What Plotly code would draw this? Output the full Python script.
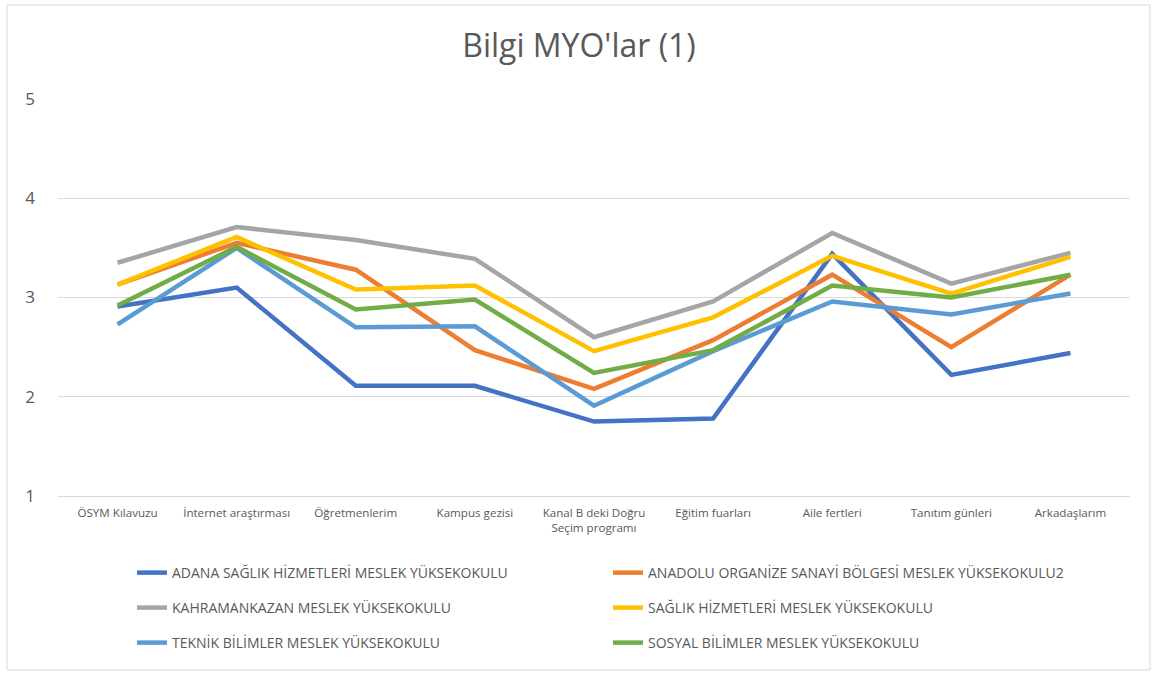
import plotly.graph_objects as go

categories = ["ÖSYM Kılavuzu", "İnternet araştırması", "Öğretmenlerim", "Kampus gezisi",
              "Kanal B deki Doğru<br>Seçim programı", "Eğitim fuarları", "Aile fertleri",
              "Tanıtım günleri", "Arkadaşlarım"]

adana = [2.91, 3.10, 2.11, 2.11, 1.75, 1.78, 3.44, 2.22, 2.44]
anadolu = [3.13, 3.55, 3.28, 2.47, 2.08, 2.57, 3.23, 2.50, 3.23]
kahramankazan = [3.35, 3.71, 3.58, 3.39, 2.60, 2.96, 3.65, 3.14, 3.45]
saglik = [3.13, 3.61, 3.08, 3.12, 2.46, 2.80, 3.42, 3.04, 3.41]
teknik = [2.73, 3.50, 2.70, 2.71, 1.91, 2.46, 2.96, 2.83, 3.04]
sosyal = [2.92, 3.51, 2.88, 2.98, 2.24, 2.47, 3.12, 3.00, 3.23]

series = [
    ("ADANA SAĞLIK HİZMETLERİ MESLEK YÜKSEKOKULU", adana, "#4472C4", "legend"),
    ("ANADOLU ORGANİZE SANAYİ BÖLGESİ MESLEK YÜKSEKOKULU2", anadolu, "#ED7D31", "legend"),
    ("KAHRAMANKAZAN MESLEK YÜKSEKOKULU", kahramankazan, "#A5A5A5", "legend2"),
    ("SAĞLIK HİZMETLERİ MESLEK YÜKSEKOKULU", saglik, "#FFC000", "legend2"),
    ("TEKNİK BİLİMLER MESLEK YÜKSEKOKULU", teknik, "#5B9BD5", "legend3"),
    ("SOSYAL BİLİMLER MESLEK YÜKSEKOKULU", sosyal, "#70AD47", "legend3"),
]

fig = go.Figure()
for name, vals, color, leg in series:
    fig.add_trace(go.Scatter(x=categories, y=vals, name=name, mode="lines",
                             line=dict(color=color, width=4.5), legend=leg))

font = "Open Sans"
grey = "#595959"
W, H = 1158, 677
ml, mr, mt, mb = 58, 28, 99, 181
pw, ph = W - ml - mr, H - mt - mb


def px_to_paper(xp, yp):
    return (xp - ml) / pw, (H - mb - yp) / ph


leg_common = dict(orientation="h", entrywidth=431, entrywidthmode="pixels",
                  font=dict(family=font, size=14, color=grey),
                  xanchor="left", yanchor="middle", bgcolor="rgba(0,0,0,0)")
lx, _ = px_to_paper(132, 0)
fig.update_layout(
    width=W, height=H,
    margin=dict(l=ml, r=mr, t=mt, b=mb),
    paper_bgcolor="white", plot_bgcolor="white",
    title=dict(text="Bilgi MYO'lar (1)", x=0.5, xanchor="center", y=1 - 46 / H, yanchor="middle",
               font=dict(family=font, size=32, color=grey)),
    legend=dict(x=lx, y=px_to_paper(0, 573)[1], **leg_common),
    legend2=dict(x=lx, y=px_to_paper(0, 608)[1], **leg_common),
    legend3=dict(x=lx, y=px_to_paper(0, 643)[1], **leg_common),
    xaxis=dict(range=[-0.5, len(categories) - 0.5], showgrid=False, showline=True,
               linecolor="#D9D9D9", linewidth=1,
               ticks="", tickfont=dict(family=font, size=11.6, color=grey),
               ticklabelstandoff=6),
    yaxis=dict(range=[1, 5], dtick=1, showgrid=True, gridcolor="#D9D9D9", gridwidth=1,
               zeroline=False, showline=False, ticks="",
               tickfont=dict(family=font, size=17, color=grey), ticklabelstandoff=22),
)

x0, y0 = px_to_paper(7, 670)
x1, y1 = px_to_paper(1150, 5)
fig.add_shape(type="rect", xref="paper", yref="paper", x0=x0, y0=y0, x1=x1, y1=y1,
              line=dict(color="#D9D9D9", width=1), layer="below")

fig.write_html("out.html", config={"displayModeBar": False},
               post_script="document.body.style.margin='0px';")
